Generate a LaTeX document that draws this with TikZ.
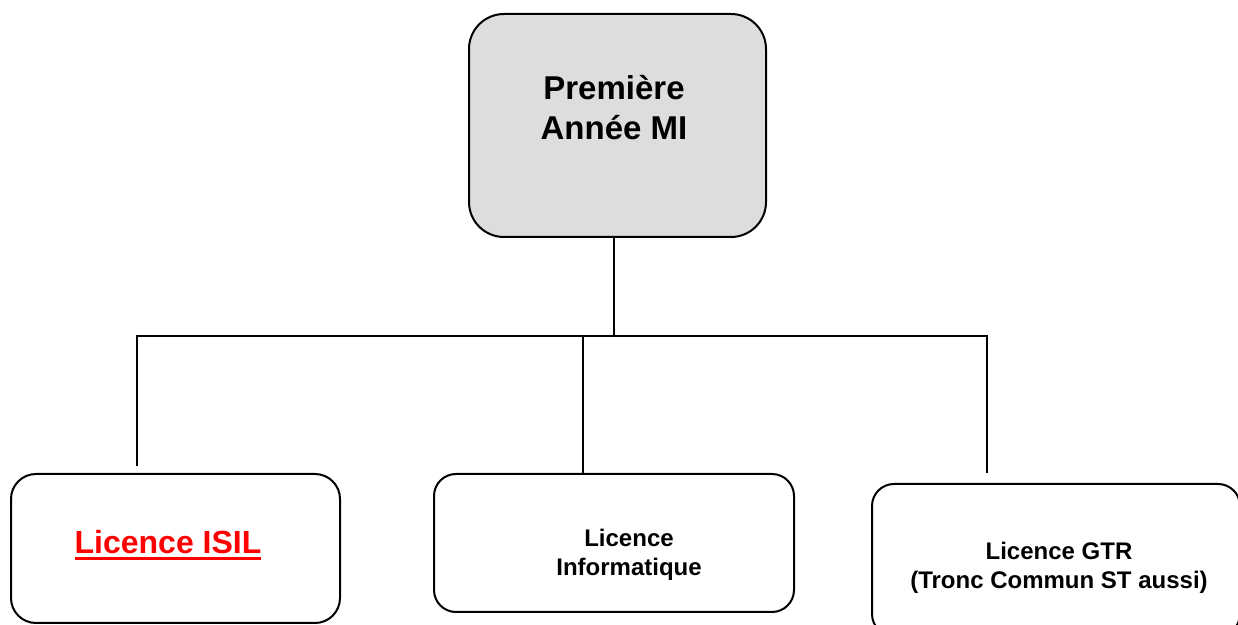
\documentclass[tikz,border=0pt]{standalone}
\usepackage{fontspec}
\setmainfont{Liberation Sans}
\definecolor{boxgray}{HTML}{DDDDDD}
\definecolor{isilred}{HTML}{FF0000}
\newcommand\thickul[1]{\setbox0\hbox{#1}\rlap{\rule[-3pt]{\wd0}{1.5pt}}\box0}
\begin{document}
\begin{tikzpicture}[x=0.5pt,y=-0.5pt,
  box/.style={draw=black, line width=1pt, rounded corners=#1, inner sep=0pt},
  box/.default=12.5pt,
  lbl/.style={font=\bfseries\fontsize{12}{14.5}\selectfont, align=center, inner sep=0pt},
  conn/.style={draw=black, line width=1pt}]
\useasboundingbox (0,0) rectangle (1238,625);
\clip (0,0) rectangle (1238,625);
% boxes
\node[box=17.5pt, fill=boxgray, minimum width=148.5pt, minimum height=111.5pt] (top) at (617.5,125.5) {};
\node[font=\bfseries\fontsize{16.5}{20}\selectfont, align=center, inner sep=0pt] (toptext) at (614,108) {Première\\Année MI};
\node[box, minimum width=164.5pt, minimum height=74.5pt] (isil) at (175.5,548.5) {};
\node[font=\bfseries\fontsize{16}{19}\selectfont, text=isilred, inner sep=0pt] (isiltext) at (168,545) {\thickul{Licence ISIL}};
\node[box=11pt, minimum width=180pt, minimum height=69pt] (info) at (614,543) {};
\node[lbl] (infotext) at (629,555) {Licence\\Informatique};
\node[box=11pt, minimum width=184pt, minimum height=76pt] (gtr) at (1056,560) {};
\node[lbl] (gtrtext) at (1059,568) {Licence GTR\\(Tronc Commun ST aussi)};
% connectors
\coordinate (j) at (614,336);
\coordinate (hm) at (583,336);
\coordinate (lt) at (137,466);
\coordinate (rt) at (987,473);
\draw[conn] (top.south -| j) -- (j);
\draw[conn] (lt) |- (j) -| (rt);
\draw[conn] (hm) -- (info.north -| hm);
\end{tikzpicture}
\end{document}
